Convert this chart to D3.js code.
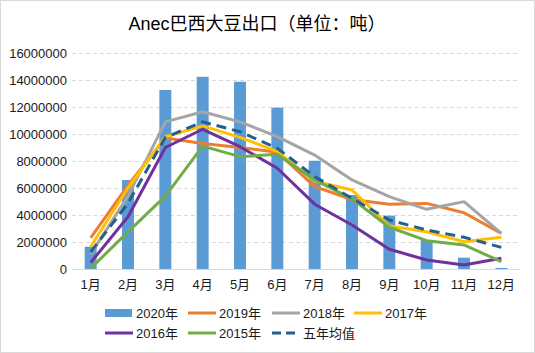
<!DOCTYPE html>
<html>
<head>
<meta charset="utf-8">
<script src="https://cdn.jsdelivr.net/npm/d3@7"></script>
<style>
  body { margin: 0; background: #fff; }
  svg { font-family: "Liberation Sans", "Noto Sans CJK SC", sans-serif; }
</style>
</head>
<body>
<svg id="drawing_region"></svg>
<script>
const months = ["1月", "2月", "3月", "4月", "5月", "6月", "7月", "8月", "9月", "10月", "11月", "12月"];
const yticks = [0, 2000000, 4000000, 6000000, 8000000, 10000000, 12000000, 14000000, 16000000];

const y2020 = [1650000, 6590000, 13260000, 14240000, 13870000, 11950000, 8020000, 5480000, 3950000, 2150000, 840000, 80000];
const y2019 = [2300000, 6200000, 9700000, 9300000, 9000000, 8650000, 6100000, 5150000, 4800000, 4860000, 4170000, 2640000];
const y2018 = [1100000, 5400000, 10900000, 11650000, 10900000, 9800000, 8440000, 6600000, 5360000, 4420000, 4990000, 2640000];
const y2017 = [1650000, 6000000, 9800000, 10600000, 9750000, 8700000, 6500000, 5850000, 3180000, 2760000, 2020000, 2350000];
const y2016 = [470000, 3870000, 9000000, 10350000, 9060000, 7460000, 4800000, 3260000, 1460000, 670000, 300000, 790000];
const y2015 = [50000, 2750000, 5400000, 9100000, 8320000, 8500000, 6600000, 5200000, 3090000, 2100000, 1780000, 540000];
const yAvg = [1250000, 4870000, 9750000, 10900000, 10170000, 8940000, 6840000, 5240000, 3630000, 2890000, 2350000, 1600000];

const lineSeries = [
  { name: "2019年", values: y2019, color: "#ED7D31", dash: null },
  { name: "2018年", values: y2018, color: "#A5A5A5", dash: null },
  { name: "2017年", values: y2017, color: "#FFC000", dash: null },
  { name: "2016年", values: y2016, color: "#7030A0", dash: null },
  { name: "2015年", values: y2015, color: "#70AD47", dash: null },
  { name: "五年均值", values: yAvg, color: "#255E91", dash: "10,6" }
];

const width = 535, height = 353;
const margin = { top: 53, right: 15, bottom: 84, left: 72 };
const inner_width = width - margin.left - margin.right;
const inner_height = height - margin.top - margin.bottom;

const svg = d3.select("#drawing_region")
  .attr("width", width)
  .attr("height", height);

svg.append("rect")
  .attr("x", 0.5).attr("y", 0.5)
  .attr("width", width - 1).attr("height", height - 1)
  .attr("fill", "#fff")
  .attr("stroke", "#D9D9D9");

svg.append("text")
  .attr("x", 257)
  .attr("y", 30)
  .attr("text-anchor", "middle")
  .attr("font-size", 18)
  .attr("fill", "#000")
  .text("Anec巴西大豆出口（单位：吨）");

const chart = svg.append("g")
  .attr("transform", `translate(${margin.left}, ${margin.top})`);

const xscale = d3.scaleBand()
  .domain(months)
  .range([0, inner_width])
  .paddingInner(0.68)
  .paddingOuter(0.34);

const yscale = d3.scaleLinear()
  .domain([0, 16000000])
  .range([inner_height, 0]);

// grid
chart.selectAll(".grid")
  .data(yticks.filter(d => d > 0))
  .enter()
  .append("line")
  .attr("x1", 0)
  .attr("x2", inner_width)
  .attr("y1", d => Math.round(yscale(d)) + 0.5)
  .attr("y2", d => Math.round(yscale(d)) + 0.5)
  .attr("stroke", "#D9D9D9")
  .attr("stroke-dasharray", "4,3");

// y labels
chart.selectAll(".ylabel")
  .data(yticks)
  .enter()
  .append("text")
  .attr("x", -5)
  .attr("y", d => yscale(d))
  .attr("dy", "0.35em")
  .attr("text-anchor", "end")
  .attr("font-size", 13)
  .attr("fill", "#1a1a1a")
  .text(d => d);

// bars
chart.selectAll(".bar")
  .data(y2020)
  .enter()
  .append("rect")
  .attr("x", (d, i) => xscale(months[i]))
  .attr("y", d => yscale(d))
  .attr("width", xscale.bandwidth())
  .attr("height", d => inner_height - yscale(d))
  .attr("fill", "#5B9BD5");

// baseline
chart.append("line")
  .attr("x1", 0).attr("x2", inner_width)
  .attr("y1", inner_height + 0.5).attr("y2", inner_height + 0.5)
  .attr("stroke", "#D9D9D9");

// x labels
chart.selectAll(".xlabel")
  .data(months)
  .enter()
  .append("text")
  .attr("x", d => xscale(d) + xscale.bandwidth() / 2)
  .attr("y", inner_height + 20)
  .attr("text-anchor", "middle")
  .attr("font-size", 13)
  .attr("fill", "#1a1a1a")
  .text(d => d);

const line = d3.line()
  .x((d, i) => xscale(months[i]) + xscale.bandwidth() / 2)
  .y(d => yscale(d));

lineSeries.forEach(s => {
  chart.append("path")
    .datum(s.values)
    .attr("d", line)
    .attr("fill", "none")
    .attr("stroke", s.color)
    .attr("stroke-width", 3)
    .attr("stroke-linejoin", "round")
    .attr("stroke-dasharray", s.dash);
});

// legend
const legendItems = [
  { name: "2020年", color: "#5B9BD5", type: "bar", dash: null },
  ...lineSeries.map(s => ({ name: s.name, color: s.color, type: "line", dash: s.dash }))
];
const legend = svg.append("g");
const colX = [105, 188, 272, 354];
const rowY = [313, 333];
legendItems.forEach((d, i) => {
  const gx = colX[i % 4];
  const gy = rowY[Math.floor(i / 4)];
  const g = legend.append("g").attr("transform", `translate(${gx}, ${gy})`);
  if (d.type === "bar") {
    g.append("rect")
      .attr("x", 0).attr("y", -4)
      .attr("width", 27).attr("height", 8)
      .attr("fill", d.color);
  } else {
    g.append("line")
      .attr("x1", 0).attr("x2", 28)
      .attr("y1", 0).attr("y2", 0)
      .attr("stroke", d.color)
      .attr("stroke-width", 3)
      .attr("stroke-dasharray", d.dash ? "9,5" : null);
  }
  g.append("text")
    .attr("x", 31)
    .attr("y", 0)
    .attr("dy", "0.35em")
    .attr("font-size", 13)
    .attr("fill", "#1a1a1a")
    .text(d.name);
});
</script>
</body>
</html>
